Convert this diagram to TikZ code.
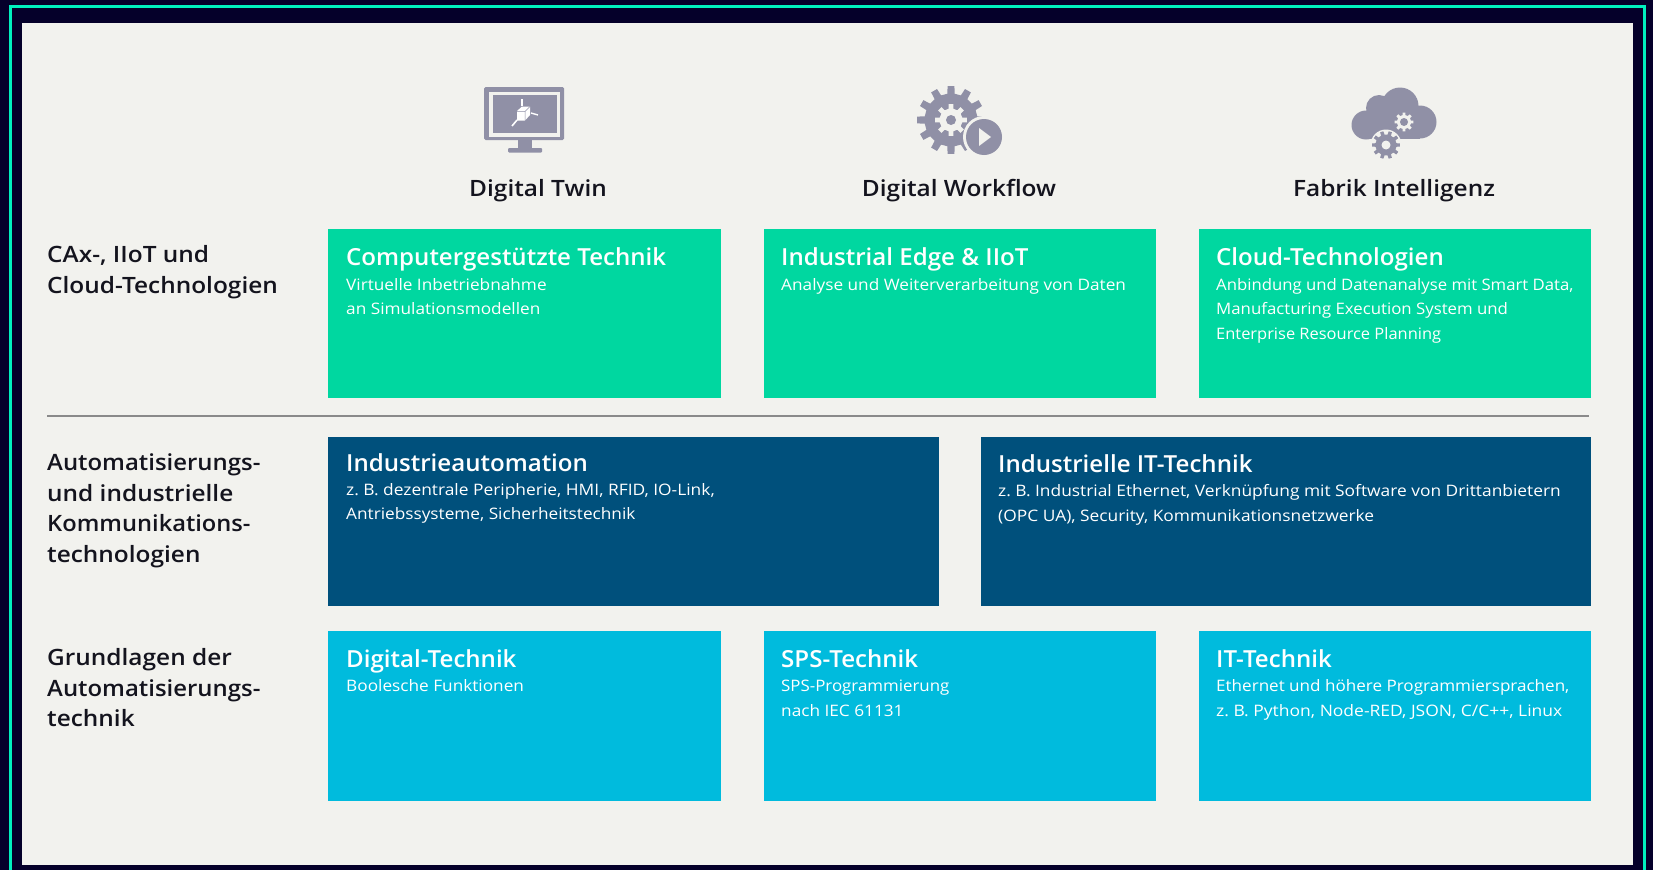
\documentclass[tikz,border=0pt]{standalone}
\usepackage{fontspec}
\setmainfont{Open Sans}[FakeStretch=1.09]
\newfontfamily\hd{Open Sans Semibold}[FakeStretch=1.025]
\newfontfamily\hdw{Open Sans Semibold}[FakeStretch=1.085]
\frenchspacing
\newcommand{\fitx}[2]{\scalebox{#1}[1]{#2}}
\definecolor{pagebg}{HTML}{05002A}
\definecolor{framec}{HTML}{00F0BE}
\definecolor{panelc}{HTML}{F2F2EE}
\definecolor{greenc}{HTML}{00D7A0}
\definecolor{darkc}{HTML}{00507C}
\definecolor{lightc}{HTML}{00BBDD}
\definecolor{iconc}{HTML}{9090A6}
\definecolor{inkc}{HTML}{14141E}
\definecolor{rulec}{HTML}{8A8A8A}
\newcommand{\cog}[6]{% cx cy rout rin teeth colour
  \begin{scope}[shift={(#1,#2)}]
    \pgfmathsetmacro{\cogw}{360/#5}
    \fill[#6] (-0.27*\cogw:#4)
      \foreach \cogi in {1,...,#5} {
        -- ({(\cogi-1)*\cogw-0.27*\cogw}:#4)
        -- ({(\cogi-1)*\cogw-0.19*\cogw}:#3)
        -- ({(\cogi-1)*\cogw+0.19*\cogw}:#3)
        -- ({(\cogi-1)*\cogw+0.27*\cogw}:#4)
        -- ({(\cogi-1)*\cogw+0.73*\cogw}:#4)
      } -- cycle;
  \end{scope}}
\tikzset{
  ttl/.style={anchor=base west,inner sep=0pt,text=white,font=\hd\fontsize{23.5}{26}\selectfont},
  sub/.style={anchor=base west,inner sep=0pt,text=white,font=\fontsize{15.8}{18}\selectfont},
  colhead/.style={anchor=base,inner sep=0pt,text=inkc,font=\hdw\fontsize{22.5}{26}\selectfont},
  rowhead/.style={anchor=base west,inner sep=0pt,text=inkc,font=\hdw\fontsize{22.5}{26}\selectfont},
}
\begin{document}
\begin{tikzpicture}[x=1pt,y=-1pt]
\useasboundingbox (0,0) rectangle (1653,870);
\fill[pagebg] (0,0) rectangle (1653,870);
\fill[framec] (9,5) rectangle (1645,7.5);
\fill[framec] (9,5) rectangle (11.5,870);
\fill[framec] (1643,5) rectangle (1645.5,870);
\fill[panelc] (22,23) rectangle (1633,865);

% boxes
\fill[greenc] (328.3,229) rectangle (721,398.3);
\fill[greenc] (763.5,229) rectangle (1155.5,398.3);
\fill[greenc] (1198.5,229) rectangle (1591,398.3);
\fill[darkc] (328.3,436.5) rectangle (938.5,606.3);
\fill[darkc] (980.7,436.5) rectangle (1591,606.3);
\fill[lightc] (328.3,630.5) rectangle (721,800.5);
\fill[lightc] (763.5,630.5) rectangle (1155.5,800.5);
\fill[lightc] (1198.5,630.5) rectangle (1591,800.5);

\draw[color=rulec,line width=1.4pt] (47,416) -- (1589,416);

% monitor icon
\fill[iconc,rounded corners=1.5pt] (484,87) rectangle (564,140);
\fill[panelc] (489,92) rectangle (560,137);
\fill[iconc] (493,95) rectangle (557,133);
\fill[iconc] (518,140) rectangle (532,150);
\fill[iconc,rounded corners=1pt] (508,148) rectangle (542,152.5);
\fill[white] (517,111) -- (522,106.5) -- (530,106.5) -- (530,115) -- (525,120.5) -- (517,120.5) -- cycle;
\draw[iconc,line width=0.5pt] (517,111.5) -- (525,111.5) -- (525,120.5) (525,111.5) -- (530,106.5);
\draw[white,line width=1.2pt] (522,106) -- (522,99);
\draw[white,line width=1.4pt] (531,113) -- (538,115);
\draw[white,line width=1.6pt] (517,120) -- (512,126);
% workflow icon
\cog{951}{120}{34}{26.5}{12}{iconc}
\cog{951}{120}{16}{11.5}{8}{panelc}
\fill[iconc] (951,120) circle (5);
\fill[panelc] (984,137) circle (21);
\fill[iconc] (984,137) circle (18);
\fill[panelc] (979,128) -- (991,137) -- (979,146) -- cycle;
% cloud icon
\fill[iconc] (1366,125) circle (14.5) (1379,108) circle (13) (1400,106) circle (18.5) (1420,122) circle (16.5);
\fill[iconc] (1366,115) rectangle (1420,139);
\cog{1404}{122}{9.5}{7}{8}{panelc}
\fill[iconc] (1404,122) circle (4);
\fill[panelc] (1386,145) circle (15.5);
\cog{1386}{145}{14}{10.5}{10}{iconc}
\fill[panelc] (1386,145) circle (4.5);

% column heads
\node[colhead] (c1) at (538,196) {Digital Twin};
\node[colhead] (c2) at (959,196) {Digital Workflow};
\node[colhead] (c3) at (1394,196) {Fabrik Intelligenz};

% row heads
\node[rowhead] (r1a) at (47,262) {CAx-, IIoT und};
\node[rowhead] (r1b) at (47,293) {Cloud-Technologien};
\node[rowhead] (r2a) at (47,470) {\fitx{0.98}{Automatisierungs-}};
\node[rowhead] (r2b) at (47,501) {und industrielle};
\node[rowhead] (r2c) at (47,531.5) {\fitx{0.97}{Kommunikations-}};
\node[rowhead] (r2d) at (47,562) {technologien};
\node[rowhead] (r3a) at (47,665) {Grundlagen der};
\node[rowhead] (r3b) at (47,696) {\fitx{0.98}{Automatisierungs-}};
\node[rowhead] (r3c) at (47,726.5) {technik};

% box texts
\node[ttl] (t1) at (346,265) {Computergestützte Technik};
\node[sub] (s1a) at (346,290) {Virtuelle Inbetriebnahme};
\node[sub] (s1b) at (346,314.5) {an Simulationsmodellen};
\node[ttl] (t2) at (781,265) {Industrial Edge \& IIoT};
\node[sub] (s2a) at (781,290) {Analyse und Weiterverarbeitung von Daten};
\node[ttl] (t3) at (1216,265) {Cloud-Technologien};
\node[sub] (s3a) at (1216,290) {\fitx{0.971}{Anbindung und Datenanalyse mit Smart Data,}};
\node[sub] (s3b) at (1216,314.5) {\fitx{0.975}{Manufacturing Execution System und}};
\node[sub] (s3c) at (1216,339) {\fitx{0.955}{Enterprise Resource Planning}};

\node[ttl] (t4) at (346,471) {Industrieautomation};
\node[sub] (s4a) at (346,495) {\fitx{1.009}{z. B. dezentrale Peripherie, HMI, RFID, IO-Link,}};
\node[sub] (s4b) at (346,519.5) {Antriebssysteme, Sicherheitstechnik};
\node[ttl] (t5) at (998,472) {Industrielle IT-Technik};
\node[sub] (s5a) at (998,496.5) {\fitx{1.008}{z. B. Industrial Ethernet, Verknüpfung mit Software von Drittanbietern}};
\node[sub] (s5b) at (998,521) {\fitx{1.008}{(OPC UA), Security, Kommunikationsnetzwerke}};

\node[ttl] (t6) at (346,667.5) {Digital-Technik};
\node[sub] (s6a) at (346,691.5) {Boolesche Funktionen};
\node[ttl] (t7) at (781,667.5) {SPS-Technik};
\node[sub] (s7a) at (781,691.5) {\fitx{0.98}{SPS-Programmierung}};
\node[sub] (s7b) at (781,716) {nach IEC 61131};
\node[ttl] (t8) at (1216,667.5) {IT-Technik};
\node[sub] (s8a) at (1216,691.5) {\fitx{0.991}{Ethernet und höhere Programmiersprachen,}};
\node[sub] (s8b) at (1216,716) {\fitx{1.015}{z. B. Python, Node-RED, JSON, C/C++, Linux}};
\end{tikzpicture}
\end{document}
